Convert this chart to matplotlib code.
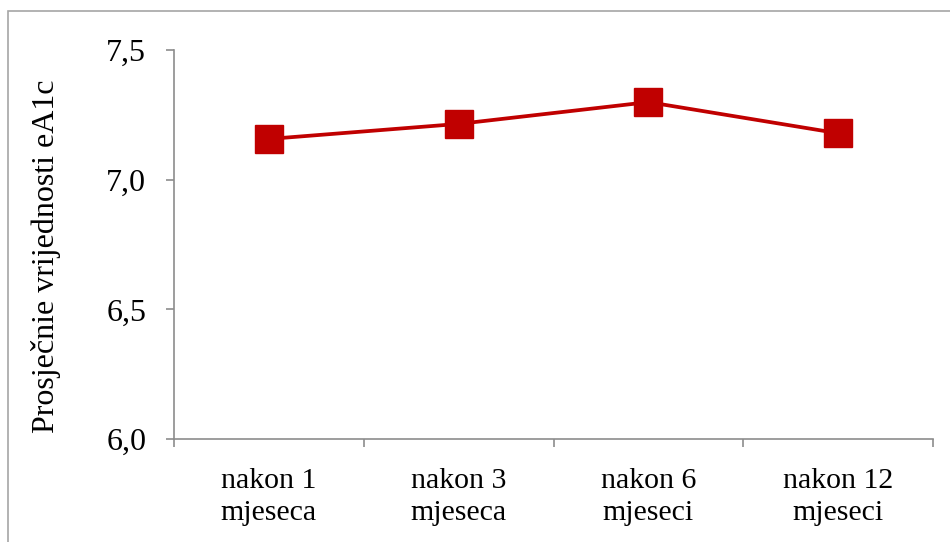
import numpy as np
import matplotlib.pyplot as plt
from matplotlib.patches import Rectangle

categories = ['nakon 1\nmjeseca', 'nakon 3\nmjeseca', 'nakon 6\nmjeseci', 'nakon 12\nmjeseci']
values = [7.157, 7.215, 7.299, 7.179]
yticks = [6.0, 6.5, 7.0, 7.5]

plt.rcParams['font.family'] = ['Liberation Serif', 'DejaVu Serif']

fig = plt.figure(figsize=(9.5, 5.42), dpi=100)
ax = fig.add_axes([174 / 950, 1 - 439 / 542, (933 - 174) / 950, (439 - 50) / 542])

# outer chart border (partly cut off at right / bottom)
fig.patches.append(Rectangle((8 / 950, -0.05), 1.2, 1 - 11 / 542 + 0.05,
                             transform=fig.transFigure, fill=False,
                             edgecolor='#a6a6a6', linewidth=1.2))

x = np.arange(len(categories))
ax.plot(x, values, color='#c00000', linewidth=2.7, marker='s',
        markersize=19.5, markerfacecolor='#c00000', markeredgecolor='#c00000')

ax.set_xlim(-0.5, len(categories) - 0.5)
ax.set_ylim(6.0, 7.5)
ax.set_yticks(yticks)
ax.set_yticklabels([f'{v:.1f}'.replace('.', ',') for v in yticks], fontsize=23)
ax.set_xticks(x)
ax.set_xticklabels(categories, fontsize=21.5, linespacing=1.3)
ax.set_xticks(np.arange(-0.5, len(categories)), minor=True)

axis_col = '#8c8c8c'
for s in ['top', 'right']:
    ax.spines[s].set_visible(False)
for s in ['left', 'bottom']:
    ax.spines[s].set_color(axis_col)
    ax.spines[s].set_linewidth(1.2)

ax.tick_params(axis='x', which='major', length=0, pad=21)
ax.tick_params(axis='x', which='minor', length=6, width=1.2, color=axis_col, direction='out')
ax.tick_params(axis='y', length=6, width=1.2, color=axis_col, pad=14)

ax.set_ylabel('Prosječnie vrijednosti eA1c', fontsize=23)
ax.yaxis.set_label_coords(-0.149, 0.47)

fig.savefig('out.png', dpi=100)
